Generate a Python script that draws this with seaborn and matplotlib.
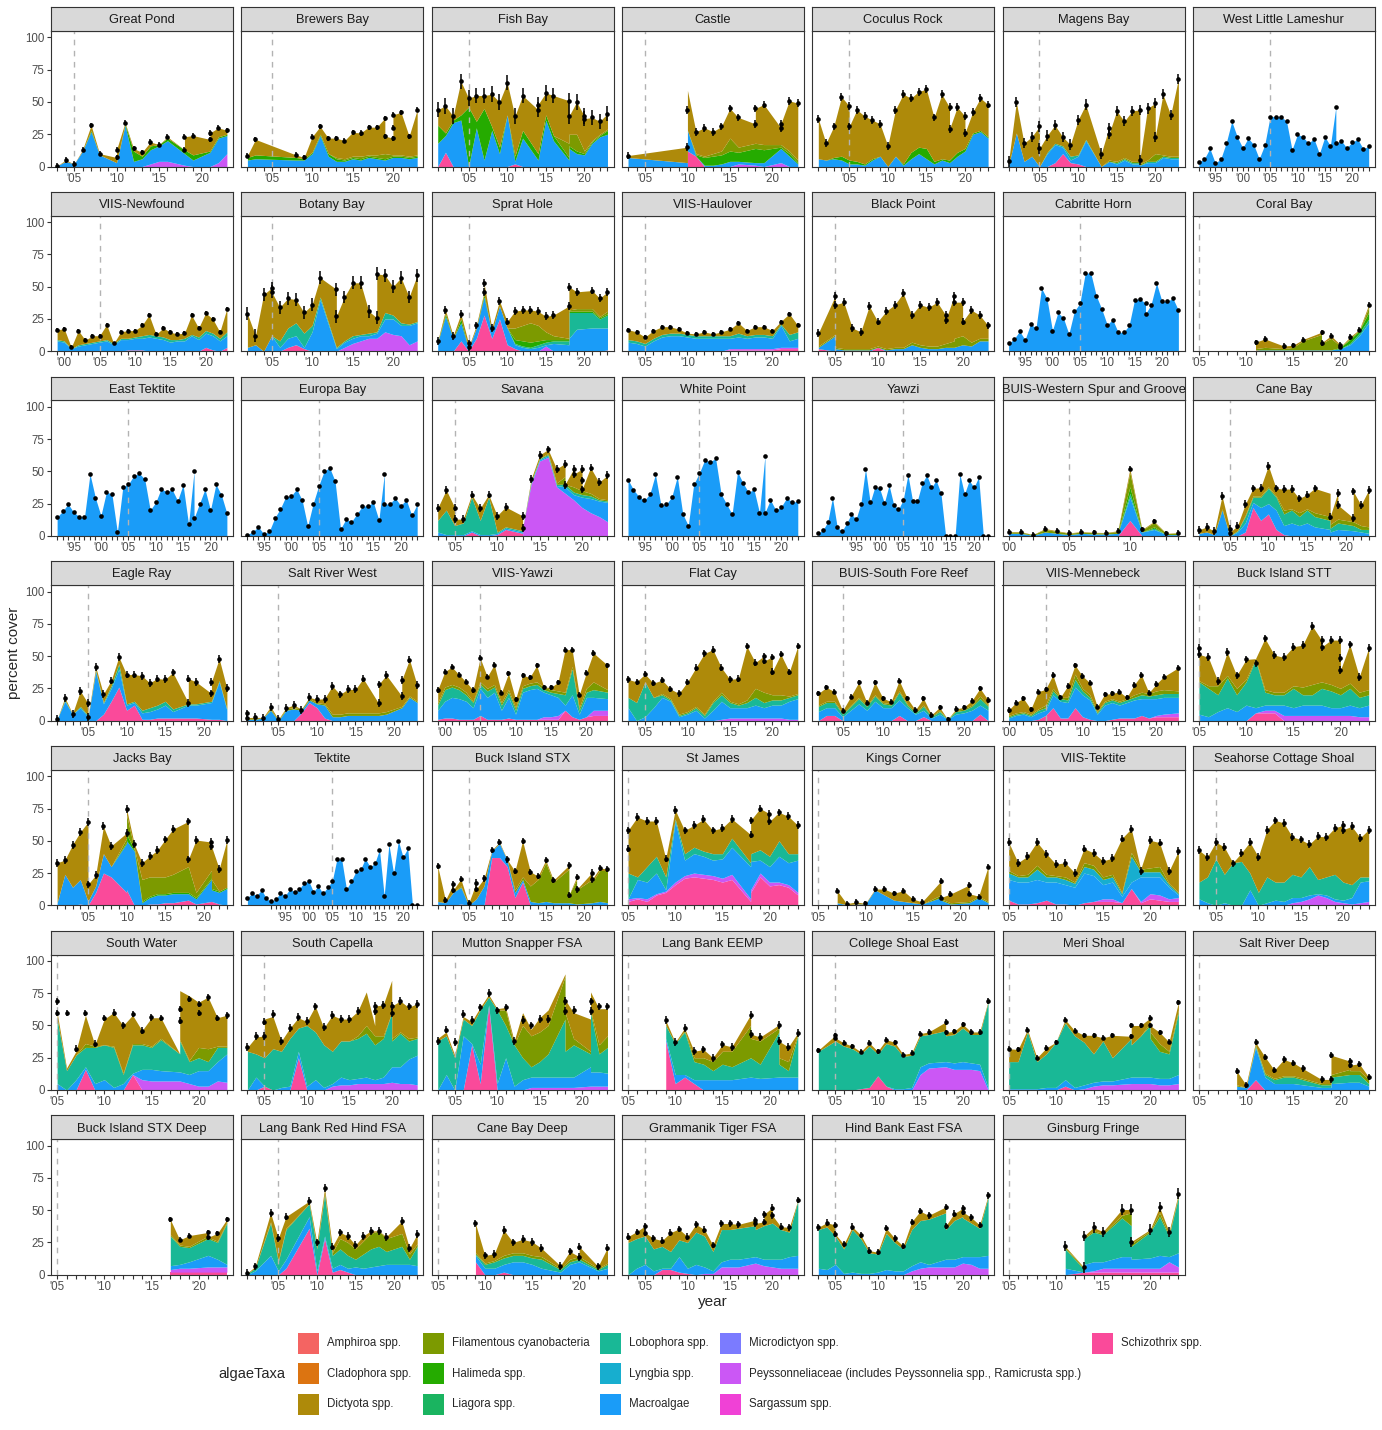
import numpy as np
import matplotlib
matplotlib.use("Agg")
import matplotlib.pyplot as plt
import seaborn as sns
from matplotlib.patches import Rectangle

nan = float("nan")

TAXA = ["Amphiroa spp.", "Cladophora spp.", "Dictyota spp.", "Filamentous cyanobacteria",
        "Halimeda spp.", "Liagora spp.", "Lobophora spp.", "Lyngbia spp.", "Macroalgae",
        "Microdictyon spp.", "Peyssonneliaceae (includes Peyssonnelia spp., Ramicrusta spp.)",
        "Sargassum spp.", "Schizothrix spp."]
TAXA_COLORS = ["#F46462", "#DC7411", "#AE8A0A", "#7C9A00", "#25AB00", "#1AB460", "#19B896",
               "#17AECF", "#1A9CF8", "#7B7BFF", "#CB57F5", "#F041D6", "#FA4A9A"]
CODE = {"dic": "Dictyota spp.", "fil": "Filamentous cyanobacteria", "hal": "Halimeda spp.",
        "lob": "Lobophora spp.", "lyng": "Lyngbia spp.", "mac": "Macroalgae",
        "peys": "Peyssonneliaceae (includes Peyssonnelia spp., Ramicrusta spp.)",
        "schi": "Schizothrix spp."}

SITE_NAMES = ["Great Pond", "Brewers Bay", "Fish Bay", "Castle", "Coculus Rock", "Magens Bay", "West Little Lameshur",
              "VIIS-Newfound", "Botany Bay", "Sprat Hole", "VIIS-Haulover", "Black Point", "Cabritte Horn", "Coral Bay",
              "East Tektite", "Europa Bay", "Savana", "White Point", "Yawzi", "BUIS-Western Spur and Groove", "Cane Bay",
              "Eagle Ray", "Salt River West", "VIIS-Yawzi", "Flat Cay", "BUIS-South Fore Reef", "VIIS-Mennebeck", "Buck Island STT",
              "Jacks Bay", "Tektite", "Buck Island STX", "St James", "Kings Corner", "VIIS-Tektite", "Seahorse Cottage Shoal",
              "South Water", "South Capella", "Mutton Snapper FSA", "Lang Bank EEMP", "College Shoal East", "Meri Shoal", "Salt River Deep",
              "Buck Island STX Deep", "Lang Bank Red Hind FSA", "Cane Bay Deep", "Grammanik Tiger FSA", "Hind Bank East FSA", "Ginsburg Fringe"]
SITE_ERR = [2, 2, 6, 3, 3, 4, 0.6,
            1.5, 5, 3, 1.5, 3, 0.6, 2,
            0.6, 0.6, 3, 0.6, 0.6, 2, 3,
            3, 3, 2, 2.5, 2, 2, 3,
            3, 0.6, 2.5, 3, 2, 3, 3,
            2.5, 3, 3, 3, 2, 2, 2.5,
            2, 3, 3, 2.5, 2.5, 4]

# ---- Great Pond
gp_yr = [2003,2004,2005,2006,2007,2008,2010,2010,2011,2012,2013,2014,2015,2016,2018,2018,2019,2021,2021,2022,2023]
gp_tot = [0.5,5,2,13,32,10,7,13,34,14,11,19,17,23,13,23,24,21,26,30,28]
gp_peys = [0,0,0,0,0,0,0,0,0,0,0,2,4,4,1,1,0,0,0,3,10]
gp_mac = [0.5,4,2,12,27,9,3,3,32,4,6,13,16,20,10,10,5,11,11,22,24]
gp_hal = [0.5,4,2,12,28,9,3,3,33,12,8,16,17,22,13,13,9,12,12,23,25]
# ---- Brewers Bay
bb_yr = [2002,2003,2008,2009,2010,2011,2012,2013,2014,2015,2016,2017,2018,2019,2019,2020,2020,2020,2021,2022,2023]
bb_tot = [8.5,21,9,7,23,31,22,22,20,26.5,26,30.5,30.5,37.5,23.5,22,30,40,42,23.5,44]
bb_mac = [5,6,5,5,10,24,8,4,4,6,5,7,6,5,5,7,7,7,7,6,7]
bb_hal = [7,9,7,6,11,25,10,6,5,7,6,8,7,6,6,8,8,8,8,7,8]
bb_fil = [7,9,7,6,11,25,10,7,6,8,8,9,9,10,10,9,9,9,9,8,9]
# ---- Fish Bay
fb_yr = [2001,2002,2003,2004,2005,2006,2007,2008,2009,2010,2011,2012,2014,2014,2015,2016,2018,2018,2019,2020,2020,2021,2022,2023]
fb_tot = [44,47,39,66,53,55,55,56,50,65,39,55,44,48,57,55,51,39,50,39,37,38,35,41]
fb_schi = [0,11,0,0,0,0,0,0,0,0,2,0,0,0,0,0,0,0,0,0,0,0,0,0]
fb_mac = [18,24,34,36,0,30,5,28,10,40,4,22,5,5,36,20,5,14,10,9,9,18,23,25]
fb_hal = [32,26,36,40,46,35,45,31,15,40,8,28,10,10,40,24,7,16,12,10,10,19,24,28]
fb_fil = [32,26,36,40,46,35,45,31,15,40,8,28,10,10,40,24,18,25,25,12,12,20,25,29]
# ---- Castle
ca_yr = [2003,2010,2010,2011,2012,2013,2014,2015,2016,2018,2018,2019,2021,2021,2022,2023]
ca_tot = [8.5,15,44,27,30,27,31,45,38,33,45,48,30,33,51,49]
ca_top = [8.5,15,59,27,30,27,31,45,38,33,45,48,30,33,51,49]
ca_schi = [0,0,12,8,0,0,0,0,0,0,0,0,0,0,0,0]
ca_peys = [0,0,12,8,0,0,0,0,2,1,1,0,3,3,0,0]
ca_mac = [7,3,28,8,1,1,2,4,4,3,3,3,14,14,8,2]
ca_hal = [7,3,28,9,7,8,9,12,11,14,14,13,15,15,10,3]
ca_fil = [7,3,28,10,8,10,12,22,15,18,18,17,17,17,12,5]
# ---- Coculus Rock
cr_yr = [2001,2002,2003,2004,2005,2005,2006,2007,2008,2009,2010,2011,2012,2013,2014,2015,2016,2017,2018,2018,2019,2020,2020,2021,2022,2023]
cr_tot = [37,18,31,54,47,31,44,39,36,33,16,44,56,53,58,60,38,56,46,29,46,39,26,42,53,48]
cr_mac = [6,5,6,5,2,2,2,1,5,8,0,8,1,6,10,6,2,5,3,3,8,12,12,25,27,22]
cr_hal = [6,5,7,8,5,5,4,2,6,8,0,8,2,11,15,14,4,6,5,5,11,14,14,26,28,23]
# ---- Magens Bay
mb_yr = [2001,2002,2003,2004,2005,2005,2006,2007,2008,2009,2010,2011,2013,2014,2014,2015,2016,2017,2018,2018,2019,2020,2020,2021,2022,2023]
mb_tot = [4,50,18,23,31,14,24,32,23,17,36,48,10,30,25,43,35,43,44,5,45,49,23,56,40,68]
mb_schi = [0,0,0,0,0,0,0,3,10,3,2,0,0,0,0,0,0,0,0,0,0,0,0,0,0,0]
mb_mac = [1,26,4,8,0,0,10,17,15,5,8,20,0,4,4,2,5,2,2,1,3,3,3,7,6,6]
mb_lob = [1,26,4,8,0,0,11,18,16,8,9,21,0,4,4,3,6,3,3,1,4,4,4,8,7,7]
mb_fil = [1,26,4,8,0,0,11,18,16,8,9,21,0,5,5,4,7,4,4,2,5,10,10,9,8,8]
# ---- West Little Lameshur
wl_yr = [1992,1993,1994,1995,1996,1997,1998,1999,2000,2001,2002,2003,2004,2005,2006,2007,2008,2009,2010,2011,2012,2013,2014,2015,2016,2017,2017,2018,2019,2020,2021,2022,2023]
wl_tot = [3.4,6,14,2.5,6,18.5,35,23,14.4,22,17,6,16.5,38.7,38.7,38.7,35,13,25,23,18,21.6,10,23,16,46,18,20,14.4,19,21,13.7,15.7]
# ---- VIIS-Newfound
vn_yr = [1999,2000,2001,2002,2003,2004,2005,2006,2007,2008,2009,2010,2011,2012,2013,2014,2015,2016,2017,2018,2019,2020,2021,2022,2023]
vn_tot = [16.5,17.5,3,16,8.5,12,12,20.6,6,15,16,16,20,28,13,18,14.7,13.4,14,28,18,29.6,25,15,33]
vn_schi = [0,0,0,0,0,0,0,0,0,0,1,1,1,0,0,0,0,0,0,0,0,3,1,0,3]
vn_mac = [8,7,2,4,5,6,7,8,5,9,9,10,10,11,10,9,7,8,8,12,9,14,12,8,12]
vn_lob = [9,8,2,5,6,7,8,9,6,10,10,11,12,13,12,11,9,9,10,13,11,16,14,10,15]
# ---- Botany Bay
bo_yr = [2002,2003,2004,2005,2005,2006,2007,2008,2009,2010,2011,2013,2013,2014,2015,2016,2017,2018,2018,2019,2020,2021,2022,2023]
bo_tot = [29,12,44,49,46,34,41,40,30,36,57,48,27,42,53,53,31,26,60,59,50,57,42,59]
bo_schi = [0,0,0,0,0,0,3,5,2,0,0,0,0,0,0,0,0,0,0,0,0,0,0,0]
bo_peys = [0,0,0,0,0,0,3,5,2,0,0,0,0,3,6,8,10,10,10,15,13,12,5,8]
bo_mac = [3,5,0,12,12,3,10,12,3,15,40,2,2,7,10,12,12,14,14,25,25,20,20,22]
bo_lob = [3,5,0,12,12,8,18,22,14,20,42,3,3,8,12,13,14,15,15,30,28,22,21,23]
# ---- Sprat Hole
sh_yr = [2001,2002,2003,2004,2005,2005,2006,2007,2007,2008,2009,2010,2011,2012,2013,2014,2015,2016,2018,2018,2019,2021,2022,2023]
sh_tot = [8,32,12,29,6,3,20,46,53,18,39,23,31,32,32,31,27,28,35,50,46,47,41,46]
sh_schi = [0,0,0,8,0,0,10,28,28,10,25,5,2,0,0,0,0,0,0,0,0,0,0,1]
sh_peys = [0,0,0,8,0,0,10,28,28,10,25,5,2,0,0,0,4,0,0,0,0,0,0,1]
sh_mac = [7,27,10,22,2,2,18,42,42,15,35,18,5,3,2,3,5,6,5,10,17,18,18,18]
sh_lob = [7,27,10,22,2,2,18,42,42,15,35,18,6,4,3,5,7,8,8,30,30,30,25,28]
sh_hal = [7,29,10,25,2,2,18,44,44,15,35,18,9,8,7,8,9,9,9,31,31,31,26,29]
sh_fil = [7,29,10,25,2,2,18,44,44,15,35,18,18,20,22,20,15,12,10,32,33,33,27,31]
# ---- VIIS-Haulover
vh_yr = [2003,2004,2005,2006,2007,2008,2009,2010,2011,2012,2013,2014,2015,2016,2017,2018,2019,2020,2021,2022,2023]
vh_tot = [16.7,15,11,16,19,19,17,14,13.4,15,13.4,15,17,22,16,19,19,16,23,29,20]
vh_schi = [0,0,0,0,0,0,0,0,0,0,0,0,1,1,1,1,1,1,2,2,2]
vh_peys = [0,0,0,0,0,0,0,0,0,0,0,0,2,2,2,2,2,2,3,3,3]
vh_mac = [7,6,4,8,11,12,12,11,10,10,10,10,10,11,10,11,11,10,20,8,10]
vh_lob = [9,8,6,10,13,14,14,13,12,12,12,12,12,14,12,13,13,12,21,13,15]
# ---- Black Point
bp_yr = [2003,2005,2005,2006,2007,2008,2009,2010,2011,2012,2013,2014,2015,2016,2017,2018,2018,2019,2019,2020,2020,2021,2022,2023]
bp_tot = [14,43,36,38,18,15,35,23,31,36,45,28,36,34,38,28,24,43,38,38,23,32,28,20]
bp_schi = [2,0,0,0,0,0,0,3,0,0,0,0,0,0,0,0,0,0,0,0,0,0,0,0]
bp_mac = [3,12,2,1,1,1,1,3,1,2,2,5,3,2,2,3,3,3,3,5,5,4,8,8]
bp_fil = [4,13,3,2,2,2,2,4,2,3,3,7,5,4,4,6,6,8,10,12,12,7,10,10]
# ---- Cabritte Horn
ch_yr = [1992,1993,1994,1995,1996,1997,1998,1999,2000,2001,2002,2003,2004,2005,2006,2007,2008,2009,2010,2011,2012,2013,2014,2015,2016,2017,2017,2018,2019,2020,2021,2022,2023]
ch_tot = [6,9.5,15.5,9,21,18,49,40.7,16,30,25.8,13.4,31,37,60.6,60.6,43,32.7,20.6,24.5,14.7,14.7,20,40,40.5,37,29,36,52.8,38.7,38.7,41,31.7]
# ---- Coral Bay
cb_yr = [2011,2012,2014,2015,2016,2018,2018,2019,2020,2020,2021,2022,2023]
cb_tot = [7,9.5,4,4.6,9,14.7,6.4,12,5,3.4,11,16.8,36]
cb_schi = [1,0,0,0,0,0,0,0,0,0,0,0,0]
cb_mac = [1,1,1,1,1,1,1,1,2,2,5,12,22]
cb_lob = [1,1,1,1,1,1,1,1,2,2,6,14,25]
cb_hal = [1,1,1,1,1,1,1,1,3,3,9,16,30]
cb_fil = [2,3,2,3,8,13,6,10,4,3,10,16,34]
# ---- East Tektite
et_yr = [1992,1993,1994,1995,1996,1997,1998,1999,2000,2001,2002,2003,2004,2005,2006,2007,2008,2009,2010,2011,2012,2013,2014,2015,2016,2017,2017,2018,2019,2020,2021,2022,2023]
et_tot = [14.7,19,24.7,18.5,15,14.7,48,29.4,15.7,34,32.5,3,38,40,46.6,48.5,44,20,26,36.6,34,36,27.3,39.7,9,50,13.7,25,36.3,20,40,31.7,17.5]
# ---- Europa Bay
eb_yr = [1992,1993,1994,1995,1996,1997,1998,1999,2000,2001,2002,2003,2004,2005,2006,2007,2008,2009,2010,2011,2012,2013,2014,2015,2016,2017,2017,2018,2019,2020,2021,2022,2023]
eb_tot = [1,3.4,7,1.5,3.6,14,21,30.4,31,36.3,27.6,7.7,25,38.7,50,53,42.5,5.4,13,11,17,23,23.5,26,12.4,48,24.5,25,29.4,23.5,28,16,24.5]
# ---- Savana
sv_yr = [2003,2004,2005,2005,2006,2007,2008,2009,2010,2011,2013,2013,2014,2015,2016,2017,2018,2018,2019,2019,2020,2020,2020,2021,2022,2023]
sv_tot = [21.6,35.6,22,13,13,32,21.4,32,15.7,22.4,15.5,6,44,62.6,67,52,56,39.4,51.8,47.7,51.8,43,36,53,41.5,47]
sv_schi = [0,0,0,0,0,3,0,0,1,5,2,0,0,0,0,0,0,0,0,0,0,0,0,0,0,0]
sv_peys = [0,0,0,0,0,3,0,0,1,5,2,6,40,58,61,38,33,33,28,28,22,22,22,18,15,11]
sv_mac = [3,1,1,1,1,4,1,1,2,6,3,6,41,59,62,39,38,38,32,32,30,30,30,29,27,26]
sv_lob = [12,20,8,8,10,30,12,30,3,7,4,6,42,60,63,40,40,40,34,34,32,32,32,31,28,27]
sv_fil = [12,20,8,8,10,30,12,30,3,7,4,6,42,60,64,41,46,39,38,38,35,35,35,33,29,28]
# ---- White Point
wp_yr = [1992,1993,1994,1995,1996,1997,1998,1999,2000,2001,2002,2003,2004,2005,2006,2007,2008,2009,2010,2011,2012,2013,2014,2015,2016,2017,2017,2018,2019,2020,2021,2022,2023]
wp_tot = [43.6,35.8,30.4,27.6,32.7,47.7,24,24.5,30.4,46,17,8,40,48.5,58.8,57.5,60,32.5,24.7,16.8,49.7,41,33.8,36,18,62,18,28,19.8,22.7,29.6,26,27]
# ---- Yawzi
yz_yr = [1987,1988,1989,1990,1991,1992,1993,1994,1995,1996,1997,1998,1999,2000,2001,2002,2003,2004,2005,2006,2007,2008,2009,2010,2011,2012,2013,2014,2015,2016,2017,2018,2019,2020,2021,2022,2023]
yz_tot = [2,4.6,10.8,29.6,7,3.6,9.8,17,13,24.7,52,26,38,36.8,25.5,39.4,24,20.6,28,47.4,27,27.3,40.7,47,37.6,43,33,0,0,0,48,32.5,43,37.6,45.6,0,0]
# ---- BUIS-Western Spur and Groove
ws_yr = [2000,2001,2002,2003,2004,2005,2006,2007,2008,2009,2010,2011,2012,2013,2014]
ws_tot = [3.4,3.4,1,5.7,4,2.3,3.4,2.8,2.6,4,52,5,11.3,2,2.6]
ws_schi = [0,0,0,0,0,0,0,0,0,0,12,0,0,0,0]
ws_mac = [2,2,0.5,3,2,1,2,1.5,1.5,2,30,3,5,1,1]
ws_lob = [2,2,0.5,3,2,1,2,1.5,1.5,2,33,3,6,1,1]
ws_hal = [2,2,0.5,3,2,1,2,1.5,1.5,2,38,3,7,1,1]
ws_fil = [3,3,1,5,3.5,2,3,2.5,2.3,3.5,49,4.5,10.5,1.8,2.3]
# ---- Cane Bay
cn_yr = [2001,2002,2003,2004,2005,2005,2006,2007,2008,2009,2010,2011,2012,2013,2014,2015,2016,2018,2018,2019,2019,2021,2021,2022,2023]
cn_tot = [4.6,7,3.6,31,5.7,2.6,8,24.5,36.8,37.4,54.4,36.8,36.3,36.3,29,32,36.8,nan,15,33.5,24,14,34.5,24,35.6]
cn_top = [4.6,7,3.6,31,5.7,2.6,8,24.5,36.8,37.4,54.4,36.8,36.3,36.3,29,32,36.8,33,15,33.5,24,14,34.5,24,35.6]
cn_schi = [0,0,0,0,0,0,0,3,22,12,17,5,1,0,0,0,0,0,0,0,0,0,0,0,0]
cn_mac = [2,3,1,20,0,0,3,10,26,22,25,20,8,10,8,10,7,5,3,5,5,4,4,3,2]
cn_lob = [2,3,1,20,0,0,4,15,30,30,37,30,17,20,15,20,15,12,6,10,10,8,8,5,5]
cn_fil = [2,3,1,21,0,0,4,16,31,31,38,31,20,21,18,21,18,15,9,13,13,11,11,8,7]
# ---- Eagle Ray
er_yr = [2001,2002,2003,2004,2005,2005,2006,2007,2008,2009,2010,2011,2012,2013,2014,2015,2016,2018,2018,2019,2021,2021,2022,2023]
er_tot = [1,17.8,5.4,23,13.4,3,41.6,20.6,31,49.4,35.7,35.7,34.7,29.3,32.6,32,37.3,13.9,32.6,30,21,30,48,25]
er_schi = [0,0,0,0,0,0,0,5,15,26,8,12,1,1,2,2,2,2,2,2,1,1,1,0]
er_mac = [1,15,5,10,3,2,38,13,25,40,12,14,6,7,9,12,7,12,12,12,14,14,30,8]
er_lob = [1,16,5,11,4,2,39,14,27,44,13,15,8,10,12,15,9,13,13,13,15,15,31,9]
# ---- Salt River West
sr_yr = [2001,2001,2002,2003,2004,2005,2006,2007,2008,2009,2010,2011,2012,2013,2014,2015,2016,2018,2018,2019,2021,2021,2022,2023]
sr_tot = [5.6,2.3,2.6,2.3,10.8,1,10,12,8.2,18,16.5,17,26.8,20.3,24.2,24.2,32.6,13.4,28,35.2,19,31.4,47.3,27.3]
sr_schi = [0,0,0,0,0,0,0,0,6,14,10,2,0,0,0,0,0,0,0,0,0,0,0,0]
sr_mac = [1,1,1,2,8,0,8,9,8,16,13,12,3,3,4,4,4,4,4,5,10,10,18,14]
sr_fil = [1.5,1.5,1.5,2,9,0.5,9,10,9,17,14,13,5,5,6,6,6,6,6,7,11,11,19,15]
# ---- VIIS-Yawzi
vy_yr = [1999,2000,2001,2002,2003,2004,2005,2006,2007,2008,2009,2010,2011,2012,2013,2014,2015,2016,2017,2018,2019,2020,2021,2023]
vy_tot = [23.7,37.8,41.6,35.7,30,23.7,48.6,34,43.4,21.6,36.5,16.5,35.2,33.4,42.7,25.7,25.7,29.6,55,55,20,37,52.4,43]
vy_schi = [1,2,2,1,1,1,4,1,1,1,2,1,1,1,1,1,1,1,8,3,1,3,4,4]
vy_peys = [1,2,2,1,1,1,4,1,1,1,2,1,1,1,1,3,3,4,8,3,1,3,8,8]
vy_mac = [8,15,18,17,15,10,25,18,22,8,18,5,22,24,25,22,20,18,12,20,5,18,18,17]
vy_lob = [12,24,26,24,20,14,28,23,26,12,22,8,25,27,28,24,22,21,20,40,8,22,24,22]
vy_fil = [14,26,28,26,22,15,30,25,28,14,24,10,27,29,30,26,24,23,22,42,10,25,30,24]
# ---- Flat Cay
fc_yr = [2003,2004,2005,2006,2007,2008,2009,2010,2011,2012,2013,2014,2015,2016,2017,2018,2019,2019,2020,2020,2021,2022,2023]
fc_tot = [32,30,36,29,31.4,24.5,21,30,41,52,55,41,32,32.6,57.6,45,50,46,49.4,38,51.4,37.8,57.6]
fc_peys = [0,0,0,0,0,0,0,0,0,0,0,1,2,2,2,2,2,2,2,2,2,1,1]
fc_mac = [10,0,3,10,18,15,3,5,8,2,8,15,10,10,10,12,10,10,12,12,12,15,17]
fc_lob = [18,14,30,18,20,16,4,6,10,4,14,20,14,12,14,18,14,14,16,16,16,18,20]
fc_fil = [18,14,30,18,21,17,5,7,11,5,15,22,15,13,16,25,22,22,20,20,20,19,21]
# ---- BUIS-South Fore Reef
sf_yr = [2002,2003,2004,2005,2006,2007,2008,2009,2010,2011,2012,2013,2014,2015,2016,2017,2018,2019,2020,2021,2022,2023]
sf_tot = [21,25.7,22.4,7.7,18.5,29.6,14,29.6,17.3,14.7,31,17.3,8.2,17.3,4.4,10.3,1,9,10.3,15.5,25,16]
sf_schi = [0,4,4,0,0,0,0,0,0,0,4,0,0,3,0,0,0,0,0,0,5,0]
sf_mac = [7,10,10,3,8,13,8,15,10,10,16,10,5,8,2,5,1,5,6,8,12,8]
sf_lob = [11,14,14,5,11,17,11,19,13,12,22,12,6,11,3,7,1,7,8,11,17,11]
sf_fil = [12,15,15,6,12,18,12,20,14,13,23,13,7,12,3.5,8,1,8,9,12,19,12]
# ---- VIIS-Mennebeck
vm_yr = [2000,2001,2002,2003,2004,2005,2006,2007,2008,2009,2010,2011,2012,2013,2014,2015,2016,2017,2018,2019,2020,2021,2023]
vm_tot = [8.2,14,17.3,8.8,22.4,24.2,35.3,18,26.8,43,34.5,29.4,10.8,20.3,21,22.4,18,27.6,35.3,21.6,28.3,34,41]
vm_schi = [0,0,0,0,1,4,10,2,2,10,3,1,0,0,1,2,2,2,4,2,3,3,3]
vm_peys = [0,0,0,0,1,4,10,2,2,10,3,1,0,0,1,2,2,2,4,2,4,5,6]
vm_mac = [2,4,5,3,6,8,20,15,14,26,20,16,5,12,14,12,14,16,17,17,17,18,18]
vm_lob = [3,5,6,4,8,10,23,17,16,32,23,18,6,14,16,14,16,18,20,19,20,21,21]
vm_fil = [4,6,7,5,9,12,25,18,18,36,25,20,7,15,17,15,17,20,22,21,23,24,23]
# ---- Buck Island STT
bs_yr = [2005,2005,2006,2007,2008,2009,2010,2011,2012,2013,2014,2015,2016,2017,2018,2018,2019,2020,2020,2020,2021,2022,2023]
bs_tot = [56,51.5,49,30.6,53,35,47.4,44.3,63.7,50.8,49,57.2,58.5,73.5,62.4,57,62.4,62.4,48.7,39,59,34,56.4]
bs_schi = [0,0,0,0,0,0,0,6,6,6,0,0,0,0,0,0,0,0,0,0,0,0,0]
bs_peys = [0,0,0,0,0,0,0,6,8,8,4,4,4,4,4,4,4,4,4,4,4,3,3]
bs_mac = [5,5,3,7,10,7,12,10,12,12,12,10,12,12,12,12,10,10,10,10,12,10,12]
bs_lob = [30,30,25,20,33,20,30,47,22,20,20,25,20,20,25,25,23,20,20,20,25,18,20]
bs_fil = [31,31,27,27,35,25,32,48,24,22,22,27,26,28,30,30,28,25,25,25,29,22,24]
# ---- Jacks Bay
jb_yr = [2001,2002,2003,2004,2005,2005,2006,2007,2008,2010,2010,2011,2012,2013,2014,2015,2016,2018,2018,2019,2021,2021,2022,2023]
jb_tot = [33,35,47,56.8,64.5,16.2,23.4,61.2,46,56,74.8,47.3,33,38,42.7,51,59,65,35.5,50.6,49,45.8,28.3,50.4]
jb_schi = [0,0,0,1,0,0,10,25,22,10,12,0,0,1,1,2,2,4,4,1,3,3,1,0]
jb_mac = [2,24,14,20,3,3,15,40,30,48,50,42,2,6,8,8,9,9,9,5,20,12,10,13]
jb_hal = [2,24,14,20,3,3,15,40,30,49,55,43,3,7,9,9,10,10,10,6,21,13,11,14]
jb_fil = [2,24,14,20,3,3,15,40,30,52,70,44,20,22,22,22,24,30,30,10,27,20,11,14]
# ---- Tektite
tk_yr = [1987,1988,1989,1990,1991,1992,1993,1994,1995,1996,1997,1998,1999,2000,2001,2002,2003,2004,2005,2006,2007,2008,2009,2010,2011,2012,2013,2014,2015,2016,2017,2018,2019,2020,2021,2022,2023]
tk_tot = [6,9.3,7.5,12,5.4,3,4.6,9.8,7.5,12.6,10.5,12.6,17.5,18.8,10.5,15,9.3,13.9,19,36.2,35.5,12.6,18.5,26.2,27.8,36.2,29.8,32.4,43.2,7.5,47.3,24.7,50,37.5,44.2,0,0]
# ---- Buck Island STX
bx_yr = [2001,2002,2003,2003,2004,2005,2006,2006,2007,2008,2009,2010,2011,2012,2013,2014,2015,2016,2018,2018,2019,2019,2021,2021,2022,2023]
bx_tot = [30.3,4,16.4,11.8,20.3,1.5,17.5,12.6,20.8,42.7,49,35.5,26.5,50,26,22.6,35,19.5,31,8,22,12.3,25.4,20,29,28]
bx_schi = [0,0,0,0,1,0,0,0,0,37,37,30,6,18,0,0,0,0,0,0,0,0,0,0,0,0]
bx_mac = [3,2,10,10,14,0,5,5,15,42,48,35,10,20,3,2,3,2,2,2,1,1,2,2,3,2]
bx_fil = [3,2,10,10,15,0,5,5,15,42,48,35,12,22,15,20,33,18,28,8,20,12,20,18,27,27]
# ---- St James
sj_yr = [2005,2005,2006,2007,2008,2009,2010,2011,2012,2013,2014,2015,2016,2018,2018,2019,2020,2020,2021,2022,2023]
sj_tot = [44,58,68.4,65.3,65.3,36.2,74,58,62,66.6,58,60,67,54.8,65.8,75,71,65,72,69,62]
sj_schi = [3,3,5,3,8,10,16,21,22,21,20,18,20,3,10,22,15,15,16,14,8]
sj_peys = [5,5,6,5,9,11,18,23,25,24,23,21,24,5,12,25,18,18,18,16,10]
sj_mac = [5,5,20,18,25,12,65,35,40,38,35,36,45,30,34,35,30,30,38,33,35]
sj_lob = [25,25,22,30,38,22,67,40,45,42,40,40,52,33,40,43,38,38,50,40,40]
# ---- Kings Corner
kc_yr = [2007,2008,2009,2010,2011,2012,2013,2014,2015,2016,2018,2018,2019,2021,2021,2022,2023]
kc_tot = [11.3,1.3,2.6,1.5,12.6,12.6,9.3,11.3,5,2.6,18.8,6,8.7,15.7,9,6.7,30]
kc_mac = [2,0.5,1,1,12,8,4,3,2,1,6,4,1,2,2,6,2]
kc_fil = [2,0.5,1,1,12,8,4,3,2,1,8,5,2,3,3,7,3]
# ---- VIIS-Tektite
vt_yr = [2005,2006,2007,2008,2009,2010,2011,2012,2013,2014,2015,2016,2017,2018,2019,2020,2021,2022,2023]
vt_tot = [49,33,38,49,40,31.9,33,25.2,44,40.6,34.4,36.5,51.7,59.4,26.5,50.4,48.6,26.5,42]
vt_schi = [4,1,1,2,4,1,1,0,2,3,3,3,2,13,2,5,4,3,3]
vt_peys = [4,1,1,2,4,1,1,0,2,3,5,5,2,13,3,9,8,5,6]
vt_mac = [20,18,18,20,18,18,16,14,25,23,16,18,7,18,22,22,22,14,8]
vt_lyng = [25,22,22,28,22,22,20,17,30,28,20,22,9,38,26,26,26,16,9]
vt_fil = [27,23,24,31,24,23,22,18,33,31,22,24,10,41,28,29,30,17,10]
# ---- Seahorse Cottage Shoal
sc_yr = [2003,2004,2005,2006,2007,2008,2009,2010,2011,2012,2013,2014,2015,2016,2017,2018,2019,2020,2020,2021,2022,2023]
sc_tot = [42.7,37.5,49,45,32.4,40.6,49,37.5,58.6,65.8,63.8,53,51,47.3,53.5,53,60,62,58.6,61.2,52.4,58.6]
sc_peys = [0,0,0,0,0,0,0,0,0,0,0,2,3,5,8,6,3,2,2,1,2,3]
sc_mac = [5,2,0,2,0,0,12,0,2,4,3,6,6,8,9,8,5,4,4,6,18,19]
sc_lob = [18,22,36,24,33,34,25,10,22,18,18,24,22,30,20,22,24,18,18,16,22,22]
# ---- South Water
sw_yr = [2005,2005,2006,2007,2008,2009,2010,2011,2012,2013,2014,2015,2016,2018,2018,2019,2020,2020,2021,2022,2023]
sw_tot = [68.6,59.6,59.6,32,59.6,36,55.8,60,50,59,46,56.3,55.8,53.7,62.7,70.4,66.6,59.6,71.7,55.8,57.8]
sw_top = [102,60,17,30,58,35,55,60,50,58,46,56,56,28,77,73,68,68,72,56,58]
sw_schi = [0,0,0,0,16,0,0,0,0,12,0,0,0,0,0,0,0,0,0,0,0]
sw_peys = [0,0,0,0,16,0,0,0,0,12,8,7,7,7,7,5,3,3,3,7,6]
sw_mac = [8,5,0,8,18,5,8,2,5,13,16,16,15,14,14,12,15,15,15,22,28]
sw_lob = [60,55,15,27,33,33,35,33,12,35,35,33,39,28,38,22,25,25,22,33,33]
sw_fil = [60,55,15,27,36,34,35,34,13,36,36,34,40,28,39,23,33,33,32,34,34]
# ---- South Capella
sp_yr = [2003,2004,2005,2005,2006,2007,2008,2009,2010,2011,2012,2013,2014,2015,2016,2017,2018,2018,2019,2020,2020,2021,2022,2023]
sp_tot = [33.4,41.7,42,53,59,37.8,48,56.3,53.7,64.8,48.8,58.4,55,55,61,nan,61,65.3,65.6,59.6,65.3,69,64.8,66.6]
sp_top = [33,41,42,55,57,38,48,56,53,65,48,58,55,55,61,76,50,65,66,85,65,69,64,67]
sp_schi = [0,0,3,3,0,0,0,25,0,0,0,0,0,0,0,0,0,0,0,0,0,0,0,0]
sp_peys = [0,0,3,3,0,0,0,25,0,0,0,3,4,4,5,5,5,5,5,6,6,5,5,4]
sp_mac = [0,10,3,3,0,2,3,30,3,8,2,5,10,8,9,10,8,8,10,18,18,18,24,27]
sp_lob = [30,28,25,25,32,30,40,48,50,45,35,30,38,38,40,44,35,35,40,60,38,44,38,40]
sp_fil = [30,28,25,25,32,30,40,48,50,45,35,30,38,38,42,50,42,42,42,60,40,45,40,41]
# ---- Mutton Snapper FSA
ms_yr = [2003,2004,2005,2006,2007,2008,2009,2010,2011,2012,2013,2014,2015,2016,2018,2018,2019,2021,2021,2022,2023]
ms_tot = [37.8,46.8,37,58.9,54,64,75,61.7,64,37.8,54,50,55,55,69,61,62,61,68.6,64.8,64.8]
ms_top = [40,45,27,57,53,64,74,63,64,38,60,47,56,62,90,70,60,55,76,63,63]
ms_schi = [0,0,0,0,35,5,65,0,0,0,0,0,0,0,0,0,0,0,0,0,0]
ms_peys = [0,0,0,0,35,5,65,0,0,0,0,2,2,2,2,2,2,3,3,3,3]
ms_mac = [0,12,0,42,36,20,66,5,25,3,8,10,10,10,10,10,10,18,14,14,13]
ms_lob = [38,42,25,55,50,62,72,62,50,35,25,18,22,28,55,30,35,28,60,28,33]
ms_fil = [38,42,25,55,50,62,72,62,62,35,50,42,45,50,88,60,40,30,62,35,42]
# ---- Lang Bank EEMP
le_yr = [2009,2010,2011,2012,2013,2014,2015,2016,2018,2018,2019,2021,2021,2022,2023]
le_tot = [54,37,48,30,31.4,25,35.3,33.4,58.4,43.4,41,50.6,37.8,33.4,44.3]
le_schi = [38,5,10,5,0,0,0,0,0,0,0,0,0,0,0]
le_mac = [40,12,12,8,8,8,8,8,10,10,9,10,10,10,10]
le_lob = [50,36,45,22,20,15,20,18,25,25,20,45,20,15,42]
le_fil = [50,36,46,25,25,22,30,30,50,40,38,48,25,22,43]
# ---- College Shoal East
cs_yr = [2003,2005,2005,2006,2007,2008,2009,2010,2011,2012,2013,2014,2015,2016,2018,2018,2019,2020,2021,2022,2023]
cs_tot = [30.9,42.4,40.4,36.5,34,29.6,36.5,30,39,37,27.5,28.8,43.7,45,52.7,44.7,45.5,51,45,45,69]
cs_schi = [0,0,0,0,0,1,2,11,3,0,0,0,0,0,0,0,0,0,0,0,0]
cs_peys = [0,0,0,0,0,1,2,11,3,0,0,0,12,17,18,18,16,16,16,15,0]
cs_mac = [0,0,0,0,0,1,2,11,3,1,1,2,18,21,22,22,21,22,21,20,2]
cs_lob = [30,38,38,34,32,28,34,28,36,34,26,27,42,43,46,42,43,48,43,43,68]
# ---- Meri Shoal
me_yr = [2005,2006,2007,2008,2009,2010,2011,2012,2013,2014,2015,2016,2018,2018,2019,2020,2020,2021,2022,2023]
me_tot = [32,31.4,46.8,25,32.6,37,54.5,46,42.4,42.4,40.4,42.4,41.6,50,50,55.8,50,44.7,37.3,67.9]
me_schi = [0,0,0,0,0,0,3,0,0,0,0,0,0,0,0,0,0,0,0,0]
me_peys = [0,0,0,0,0,0,3,0,1,3,4,4,5,5,5,5,5,4,4,5]
me_mac = [1,1,1,1,2,2,8,2,4,6,7,7,10,10,10,10,10,9,9,12]
me_lob = [22,22,45,22,28,37,52,42,37,28,38,25,40,35,42,50,40,30,28,60]
me_fil = [22,22,45,22,28,37,52,42,37,28,38,25,40,35,42,52,45,36,30,62]
# ---- Salt River Deep
sd_yr = [2009,2010,2011,2012,2013,2014,2015,2016,2018,2019,2019,2021,2021,2022,2023]
sd_tot = [14.7,4,37,25.7,15.4,23.7,21,16.7,8.2,8.2,27,22.4,19.3,20.3,10]
sd_schi = [0,0,8,0,0,0,0,0,0,0,0,0,0,0,0]
sd_mac = [3,2,33,10,5,5,5,4,2,2,5,6,6,6,3]
sd_lob = [3,2,34,12,8,10,10,8,4,4,10,12,12,12,5]
sd_fil = [4,2,35,13,9,11,11,9,5,5,12,16,15,15,8]
# ---- Buck Island STX Deep
bd_yr = [2017,2018,2019,2021,2021,2022,2023]
bd_tot = [42.8,27,30.3,32.8,29,32,43]
bd_schi = [2,2,2,2,2,2,2]
bd_peys = [4,5,5,6,6,6,6]
bd_mac = [7,8,10,15,15,12,8]
bd_lob = [30,22,21,28,28,25,40]
bd_fil = [31,23,22,30,29,26,41]
# ---- Lang Bank Red Hind FSA
lr_yr = [2001,2002,2004,2005,2006,2009,2010,2011,2012,2013,2014,2015,2016,2017,2018,2019,2021,2022,2023]
lr_tot = [1.3,6.4,48,28.2,45,57,25,67,21.8,32.8,30,23,30,34,34,29.5,41.5,20.5,31.5]
lr_schi = [0,0,0,0,5,36,0,28,2,4,2,0,0,0,0,0,0,0,0]
lr_mac = [0,3,15,3,12,45,3,30,5,8,5,6,5,6,7,8,8,8,7]
lr_lob = [1,5,40,10,35,55,20,62,15,20,15,12,16,20,22,18,22,12,22]
lr_fil = [1,5,41,11,36,55,21,63,17,28,25,20,26,32,34,28,32,16,24]
# ---- Cane Bay Deep
cd_yr = [2009,2010,2011,2012,2013,2014,2015,2016,2018,2019,2020,2020,2022,2023]
cd_tot = [39.7,14.9,16.2,34.6,25,27.4,25.6,20.5,6.9,18,14,21.8,6.4,21]
cd_schi = [10,0,0,2,0,0,0,0,0,0,0,0,0,0]
cd_mac = [15,5,5,8,10,10,8,5,2,8,10,10,3,5]
cd_lob = [16,8,10,13,15,15,13,12,4,10,12,12,4,8]
cd_fil = [17,9,11,15,17,17,15,14,5,12,14,14,5,9]
# ---- Grammanik Tiger FSA
gt_yr = [2003,2004,2005,2005,2006,2007,2008,2009,2010,2011,2012,2013,2014,2015,2016,2018,2018,2019,2019,2020,2020,2021,2022,2023]
gt_tot = [29.5,33.3,37.7,32.6,28.2,26.4,32.6,35.4,29.5,39,35,23,39.7,39.7,39,42.3,39.7,41,46.7,52,46,37.2,36.7,57.7]
gt_schi = [0,0,0,0,0,4,4,2,1,0,0,0,0,0,0,0,0,0,0,0,0,0,0,0]
gt_peys = [0,0,0,0,0,4,4,2,1,0,1,1,6,6,6,9,9,7,7,6,6,5,5,5]
gt_mac = [0,5,8,8,3,5,5,14,5,8,6,3,10,12,12,14,14,12,12,12,12,12,14,15]
gt_lob = [25,28,30,30,20,22,18,27,25,33,30,18,35,35,36,38,35,38,38,40,40,35,33,57]
# ---- Hind Bank East FSA
hb_yr = [2003,2004,2005,2005,2006,2007,2008,2009,2010,2011,2012,2013,2014,2015,2016,2018,2018,2019,2020,2020,2021,2022,2023]
hb_tot = [36.7,40.3,38.5,31.5,23.6,37.2,30.8,18.7,17.4,36,28.2,22.3,41,49.2,46,52.5,37.7,47.4,51.3,48.7,44.4,38.5,61.5]
hb_peys = [0,0,0,0,0,0,0,0,0,0,0,0,3,5,6,6,6,6,9,9,8,5,5]
hb_mac = [5,4,8,8,1,2,1,1,2,4,3,3,7,10,8,12,12,12,14,14,14,14,15]
hb_lob = [35,37,30,30,20,35,28,17,16,32,25,20,35,42,43,48,35,42,45,44,40,36,60]
# ---- Ginsburg Fringe
gf_yr = [2011,2013,2013,2014,2015,2017,2018,2018,2020,2021,2022,2023]
gf_tot = [22,5.6,30,36.7,33.3,50.5,50.5,25.6,35,52.5,33.3,62.8]
gf_schi = [0,2,2,2,2,2,2,2,2,2,2,2]
gf_peys = [0,2,2,3,5,5,5,5,5,5,10,6]
gf_mac = [5,2,8,10,10,14,14,12,13,15,14,17]
gf_lob = [20,4,28,33,31,44,38,22,33,45,30,60]
gf_fil = [21,5,29,34,32,46,48,24,34,48,31,61]

# ---------------- assemble per-facet records (bottom-up cumulative boundaries)
FACETS = [
    (gp_yr, gp_tot, None, [("peys", gp_peys), ("mac", gp_mac), ("hal", gp_hal)], "dic"),
    (bb_yr, bb_tot, None, [("mac", bb_mac), ("hal", bb_hal), ("fil", bb_fil)], "dic"),
    (fb_yr, fb_tot, None, [("schi", fb_schi), ("mac", fb_mac), ("hal", fb_hal), ("fil", fb_fil)], "dic"),
    (ca_yr, ca_tot, ca_top, [("schi", ca_schi), ("peys", ca_peys), ("mac", ca_mac), ("hal", ca_hal), ("fil", ca_fil)], "dic"),
    (cr_yr, cr_tot, None, [("mac", cr_mac), ("hal", cr_hal)], "dic"),
    (mb_yr, mb_tot, None, [("schi", mb_schi), ("mac", mb_mac), ("lob", mb_lob), ("fil", mb_fil)], "dic"),
    (wl_yr, wl_tot, None, [], "mac"),
    (vn_yr, vn_tot, None, [("schi", vn_schi), ("mac", vn_mac), ("lob", vn_lob)], "dic"),
    (bo_yr, bo_tot, None, [("schi", bo_schi), ("peys", bo_peys), ("mac", bo_mac), ("lob", bo_lob)], "dic"),
    (sh_yr, sh_tot, None, [("schi", sh_schi), ("peys", sh_peys), ("mac", sh_mac), ("lob", sh_lob), ("hal", sh_hal), ("fil", sh_fil)], "dic"),
    (vh_yr, vh_tot, None, [("schi", vh_schi), ("peys", vh_peys), ("mac", vh_mac), ("lob", vh_lob)], "dic"),
    (bp_yr, bp_tot, None, [("schi", bp_schi), ("mac", bp_mac), ("fil", bp_fil)], "dic"),
    (ch_yr, ch_tot, None, [], "mac"),
    (cb_yr, cb_tot, None, [("schi", cb_schi), ("mac", cb_mac), ("lob", cb_lob), ("hal", cb_hal), ("fil", cb_fil)], "dic"),
    (et_yr, et_tot, None, [], "mac"),
    (eb_yr, eb_tot, None, [], "mac"),
    (sv_yr, sv_tot, None, [("schi", sv_schi), ("peys", sv_peys), ("mac", sv_mac), ("lob", sv_lob), ("fil", sv_fil)], "dic"),
    (wp_yr, wp_tot, None, [], "mac"),
    (yz_yr, yz_tot, None, [], "mac"),
    (ws_yr, ws_tot, None, [("schi", ws_schi), ("mac", ws_mac), ("lob", ws_lob), ("hal", ws_hal), ("fil", ws_fil)], "dic"),
    (cn_yr, cn_tot, cn_top, [("schi", cn_schi), ("mac", cn_mac), ("lob", cn_lob), ("fil", cn_fil)], "dic"),
    (er_yr, er_tot, None, [("schi", er_schi), ("mac", er_mac), ("lob", er_lob)], "dic"),
    (sr_yr, sr_tot, None, [("schi", sr_schi), ("mac", sr_mac), ("fil", sr_fil)], "dic"),
    (vy_yr, vy_tot, None, [("schi", vy_schi), ("peys", vy_peys), ("mac", vy_mac), ("lob", vy_lob), ("fil", vy_fil)], "dic"),
    (fc_yr, fc_tot, None, [("peys", fc_peys), ("mac", fc_mac), ("lob", fc_lob), ("fil", fc_fil)], "dic"),
    (sf_yr, sf_tot, None, [("schi", sf_schi), ("mac", sf_mac), ("lob", sf_lob), ("fil", sf_fil)], "dic"),
    (vm_yr, vm_tot, None, [("schi", vm_schi), ("peys", vm_peys), ("mac", vm_mac), ("lob", vm_lob), ("fil", vm_fil)], "dic"),
    (bs_yr, bs_tot, None, [("schi", bs_schi), ("peys", bs_peys), ("mac", bs_mac), ("lob", bs_lob), ("fil", bs_fil)], "dic"),
    (jb_yr, jb_tot, None, [("schi", jb_schi), ("mac", jb_mac), ("hal", jb_hal), ("fil", jb_fil)], "dic"),
    (tk_yr, tk_tot, None, [], "mac"),
    (bx_yr, bx_tot, None, [("schi", bx_schi), ("mac", bx_mac), ("fil", bx_fil)], "dic"),
    (sj_yr, sj_tot, None, [("schi", sj_schi), ("peys", sj_peys), ("mac", sj_mac), ("lob", sj_lob)], "dic"),
    (kc_yr, kc_tot, None, [("mac", kc_mac), ("fil", kc_fil)], "dic"),
    (vt_yr, vt_tot, None, [("schi", vt_schi), ("peys", vt_peys), ("mac", vt_mac), ("lyng", vt_lyng), ("fil", vt_fil)], "dic"),
    (sc_yr, sc_tot, None, [("peys", sc_peys), ("mac", sc_mac), ("lob", sc_lob)], "dic"),
    (sw_yr, sw_tot, sw_top, [("schi", sw_schi), ("peys", sw_peys), ("mac", sw_mac), ("lob", sw_lob), ("fil", sw_fil)], "dic"),
    (sp_yr, sp_tot, sp_top, [("schi", sp_schi), ("peys", sp_peys), ("mac", sp_mac), ("lob", sp_lob), ("fil", sp_fil)], "dic"),
    (ms_yr, ms_tot, ms_top, [("schi", ms_schi), ("peys", ms_peys), ("mac", ms_mac), ("lob", ms_lob), ("fil", ms_fil)], "dic"),
    (le_yr, le_tot, None, [("schi", le_schi), ("mac", le_mac), ("lob", le_lob), ("fil", le_fil)], "dic"),
    (cs_yr, cs_tot, None, [("schi", cs_schi), ("peys", cs_peys), ("mac", cs_mac), ("lob", cs_lob)], "dic"),
    (me_yr, me_tot, None, [("schi", me_schi), ("peys", me_peys), ("mac", me_mac), ("lob", me_lob), ("fil", me_fil)], "dic"),
    (sd_yr, sd_tot, None, [("schi", sd_schi), ("mac", sd_mac), ("lob", sd_lob), ("fil", sd_fil)], "dic"),
    (bd_yr, bd_tot, None, [("schi", bd_schi), ("peys", bd_peys), ("mac", bd_mac), ("lob", bd_lob), ("fil", bd_fil)], "dic"),
    (lr_yr, lr_tot, None, [("schi", lr_schi), ("mac", lr_mac), ("lob", lr_lob), ("fil", lr_fil)], "dic"),
    (cd_yr, cd_tot, None, [("schi", cd_schi), ("mac", cd_mac), ("lob", cd_lob), ("fil", cd_fil)], "dic"),
    (gt_yr, gt_tot, None, [("schi", gt_schi), ("peys", gt_peys), ("mac", gt_mac), ("lob", gt_lob)], "dic"),
    (hb_yr, hb_tot, None, [("peys", hb_peys), ("mac", hb_mac), ("lob", hb_lob)], "dic"),
    (gf_yr, gf_tot, None, [("schi", gf_schi), ("peys", gf_peys), ("mac", gf_mac), ("lob", gf_lob), ("fil", gf_fil)], "dic"),
]

bad = []
for nm, (yr, tot, top, layers, _) in zip(SITE_NAMES, FACETS):
    n = len(yr)
    if len(tot) != n or (top is not None and len(top) != n) or any(len(b) != n for _, b in layers):
        bad.append((nm, n, len(tot), [len(b) for _, b in layers]))
if bad:
    raise SystemExit("length mismatch: %r" % bad)

PAL = dict(zip(TAXA, TAXA_COLORS))

# ---------------- figure
sns.set_theme(style="white")
plt.rcParams["font.family"] = ["Liberation Sans", "DejaVu Sans"]

W, H = 1382, 1430
fig = plt.figure(figsize=(W / 100, H / 100), dpi=100)


def box(x0, y0, x1, y1):
    return [x0 / W, 1 - y1 / H, (x1 - x0) / W, (y1 - y0) / H]


EDGE = "#333333"
for i, (name, (yr, tot, top, layers, toptax)) in enumerate(zip(SITE_NAMES, FACETS)):
    r, c = divmod(i, 7)
    x0 = 51 + 190.3 * c
    x1 = x0 + 182
    ytop = 31 + 184.7 * r
    ybot = 166.5 + 184.7 * r
    ax = fig.add_axes(box(x0, ytop, x1, ybot))
    sax = fig.add_axes(box(x0, 7.3 + 184.7 * r, x1, ytop))

    yr = np.asarray(yr, float)
    tot = np.asarray(tot, float)
    topv = np.asarray(top if top is not None else tot, float)
    bounds = [np.asarray(b, float) for _, b in layers] + [topv]
    names = [CODE[k] for k, _ in layers] + [CODE[toptax]]
    prev = np.zeros_like(yr)
    thick = []
    for b in bounds:
        t = np.maximum(b - prev, 0)
        thick.append(t)
        prev = prev + t
    ax.stackplot(yr, *thick, colors=[PAL[n] for n in names], linewidth=0, zorder=1)

    lo = min(yr.min(), 2005)
    hi = max(yr.max(), 2005)
    pad = 0.036 * (hi - lo)
    ax.set_xlim(lo - pad, hi + pad)
    ax.set_ylim(0, 105)
    ax.axvline(2005, color="#B3B3B3", lw=1.0, ls=(0, (4, 4)), zorder=3)

    m = ~np.isnan(tot)
    e = SITE_ERR[i]
    ax.vlines(yr[m], tot[m] - e, tot[m] + e, color="black", lw=1.1, zorder=4)
    sns.scatterplot(x=yr[m], y=tot[m], ax=ax, color="black", s=11, linewidth=0, zorder=5, legend=False)
    ax.set_xlabel("")
    ax.set_ylabel("")

    ticks = list(range(int(max(np.ceil(lo), 1992)), int(hi) + 1))
    ax.set_xticks(ticks)
    ax.set_xticklabels(["'%02d" % (t % 100) if t % 5 == 0 else "" for t in ticks])
    ax.tick_params(axis="x", bottom=True, length=3, width=0.8, color=EDGE, pad=1.5,
                   labelsize=8.3, labelcolor="#4D4D4D")
    if c == 0:
        ax.set_yticks([0, 25, 50, 75, 100])
        ax.tick_params(axis="y", left=True, length=3, width=0.8, color=EDGE, pad=1.5,
                       labelsize=8.3, labelcolor="#4D4D4D")
    else:
        ax.set_yticks([])
    for s in ax.spines.values():
        s.set_color(EDGE)
        s.set_linewidth(0.8)

    sax.set_facecolor("#D9D9D9")
    sax.set_xticks([])
    sax.set_yticks([])
    for s in sax.spines.values():
        s.set_color(EDGE)
        s.set_linewidth(0.8)
    sax.text(0.5, 0.45, name, ha="center", va="center", fontsize=9.3, color="#1A1A1A",
             transform=sax.transAxes, clip_on=True)

fig.text(14 / W, 1 - 653 / H, "percent cover", rotation=90, ha="center", va="center", fontsize=11)
fig.text(713 / W, 1 - 1302 / H, "year", ha="center", va="center", fontsize=11)

# ---------------- legend (column-major, 3 rows x 5 columns, title at left)
fig.text(218 / W, 1 - 1374 / H, "algaeTaxa", ha="left", va="center", fontsize=10.5)
col_x = [298, 423, 600, 720, 1092]
row_y = [1343, 1373.5, 1404]
for k, t in enumerate(TAXA):
    cc, rr = divmod(k, 3)
    kx, ky = col_x[cc], row_y[rr]
    fig.add_artist(Rectangle((kx / W, 1 - (ky + 10.5) / H), 21 / W, 21 / H,
                             transform=fig.transFigure, facecolor=PAL[t], edgecolor="none"))
    fig.text((kx + 29) / W, 1 - ky / H, t, ha="left", va="center", fontsize=8.3)

fig.savefig("out.png", dpi=100)
